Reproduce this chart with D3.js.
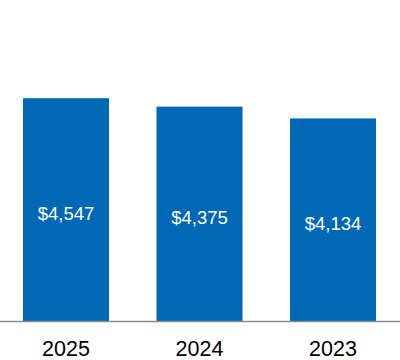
<!DOCTYPE html>
<html>
<head>
<meta charset="utf-8">
<script src="https://cdn.jsdelivr.net/npm/d3@7"></script>
<style>
  html, body { margin: 0; padding: 0; background: #fff; }
  svg { display: block; font-family: "Liberation Sans", Arial, sans-serif; }
</style>
</head>
<body>
<svg id="chart" width="400" height="360"></svg>
<script>
// chart data
const years = ['2025', '2024', '2023'];
const revenue = [4547, 4375, 4134];
const valueLabels = ['$4,547', '$4,375', '$4,134'];

const width = 400, height = 360;
const baseY = 321;

const svg = d3.select('#chart');

const x = d3.scaleBand()
    .domain(years)
    .range([-0.75, 399.75])
    .paddingInner(0.356)
    .paddingOuter(0.178);

const y = d3.scaleLinear()
    .domain([0, 6000])
    .range([baseY, 27]);

const rows = years.map((yr, i) => ({ year: yr, value: revenue[i], label: valueLabels[i] }));

// bars
svg.append('g').selectAll('rect')
    .data(rows)
    .enter()
    .append('rect')
    .attr('x', d => x(d.year))
    .attr('y', d => y(d.value))
    .attr('width', x.bandwidth())
    .attr('height', d => baseY - y(d.value))
    .attr('fill', '#0068b5');

// value labels in the middle of each bar
svg.append('g').selectAll('text')
    .data(rows)
    .enter()
    .append('text')
    .attr('x', d => x(d.year) + x.bandwidth() / 2)
    .attr('y', d => (y(d.value) + baseY) / 2 + 10.5)
    .attr('text-anchor', 'middle')
    .attr('fill', '#fff')
    .style('font-size', '18.5px')
    .text(d => d.label);

// baseline
svg.append('line')
    .attr('x1', 0).attr('x2', width)
    .attr('y1', baseY + 0.5).attr('y2', baseY + 0.5)
    .attr('stroke', '#8c8c8c')
    .attr('stroke-width', 1.5);

// x axis labels
const xAxis = d3.axisBottom(x).tickSize(0).tickPadding(0);
const gx = svg.append('g')
    .attr('transform', `translate(0, ${baseY})`)
    .call(xAxis);
gx.select('.domain').remove();
gx.selectAll('text')
    .attr('dy', null)
    .attr('y', 35)
    .attr('fill', '#000')
    .style('font-size', '21.5px')
    .style('font-family', '"Liberation Sans", Arial, sans-serif');
</script>
</body>
</html>
